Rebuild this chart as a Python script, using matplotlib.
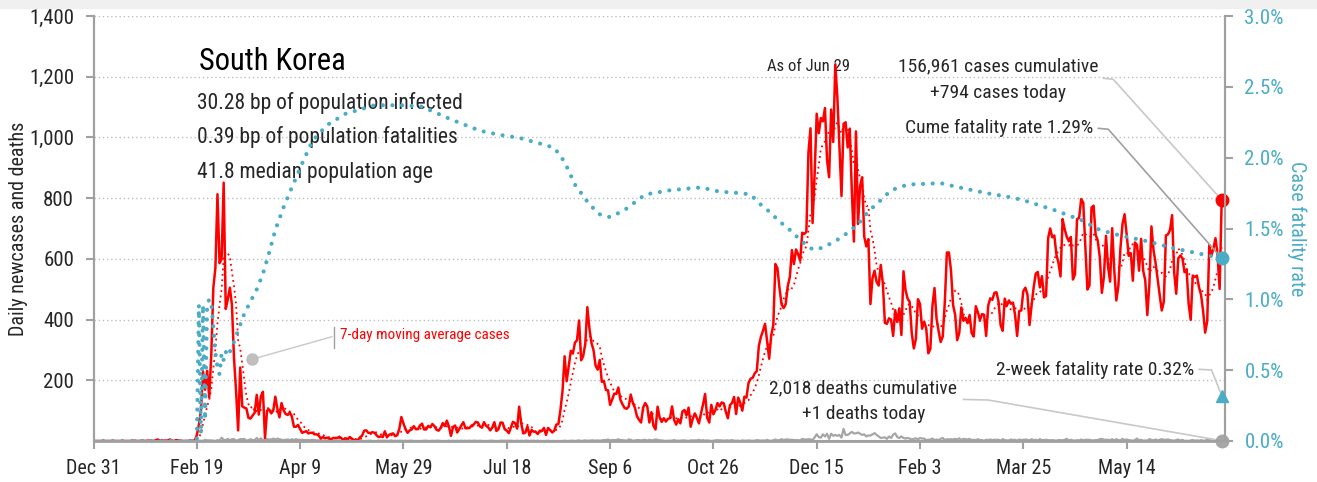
import numpy as np
import pandas as pd
import matplotlib
matplotlib.use("Agg")
import matplotlib.pyplot as plt
from matplotlib.patches import Rectangle

plt.rcParams['font.family'] = ['Roboto Condensed', 'Archivo Narrow', 'DejaVu Sans']

RED = '#ff0000'
TEAL = '#4bacc6'
GRAY = '#a6a6a6'
LIGHT = '#c8c8c8'
INK = '#262626'

START = pd.Timestamp('2019-12-31')

# daily new cases, one list per month
cases_2019_12 = [0]
cases_2020_01 = [0, 0, 0, 0, 0, 0, 0, 0, 0, 0, 0, 0, 0, 0, 0, 0, 0, 0, 0, 1,
                 0, 0, 0, 1, 0, 1, 1, 0, 0, 2, 5]
cases_2020_02 = [1, 3, 0, 1, 2, 5, 1, 0, 3, 2, 0, 0, 0, 0, 0, 1, 1, 1, 20, 53,
                 100, 229, 169, 231, 144, 284, 505, 571, 813]
cases_2020_03 = [586, 599, 851, 435, 467, 505, 448, 273, 164, 35, 242, 114, 110, 107, 76, 74,
                 84, 93, 152, 87, 147, 162, 10, 100, 104, 91, 100, 146, 105, 78, 125]
cases_2020_04 = [101, 89, 86, 94, 81, 47, 47, 53, 39, 27, 30, 32, 25, 27, 27, 22,
                 22, 18, 8, 13, 9, 11, 8, 6, 10, 10, 10, 14, 9, 4]
cases_2020_05 = [9, 6, 13, 8, 3, 2, 4, 12, 18, 34, 35, 27, 26, 29, 27, 19,
                 13, 15, 13, 32, 12, 20, 23, 25, 16, 19, 40, 79, 58, 39, 27]
cases_2020_06 = [35, 38, 49, 39, 39, 51, 57, 38, 38, 50, 45, 56, 49, 37, 34,
                 43, 59, 49, 67, 48, 17, 46, 51, 28, 39, 51, 62, 42, 42, 43]
cases_2020_07 = [51, 54, 63, 61, 48, 44, 62, 50, 45, 35, 44, 62, 33, 39, 61, 60,
                 39, 34, 26, 45, 63, 59, 41, 113, 58, 25, 28, 48, 18, 36, 31]
cases_2020_08 = [30, 23, 34, 33, 43, 20, 43, 36, 28, 34, 54, 56, 103, 166, 279, 197,
                 246, 297, 288, 324, 332, 397, 266, 280, 320, 441, 371, 323, 299, 248, 235]
cases_2020_09 = [267, 195, 198, 168, 167, 119, 136, 156, 155, 176, 136, 121, 109, 106, 113,
                 153, 126, 110, 82, 70, 61, 110, 125, 114, 61, 95, 50, 38, 113, 77]
cases_2020_10 = [63, 75, 64, 73, 75, 114, 69, 54, 72, 58, 97, 102, 84, 110, 47, 73,
                 91, 76, 58, 91, 121, 155, 77, 61, 119, 88, 103, 125, 114, 127, 124]
cases_2020_11 = [97, 75, 118, 125, 145, 89, 143, 126, 100, 146, 143, 191, 205, 208, 223,
                 230, 313, 343, 363, 386, 330, 271, 349, 382, 583, 569, 503, 450, 438, 451]
cases_2020_12 = [511, 540, 629, 583, 631, 615, 594, 686, 682, 689, 950, 1030, 718, 880, 1078, 1014,
                 1064, 1053, 1097, 926, 869, 1092, 985, 1241, 1132, 970, 807, 1045, 1050, 967, 1029]
cases_2021_01 = [824, 657, 1020, 715, 840, 869, 674, 641, 665, 451, 537, 561, 524, 512, 580, 520,
                 389, 386, 404, 400, 346, 431, 392, 437, 349, 559, 497, 469, 458, 355, 305]
cases_2021_02 = [336, 467, 451, 370, 393, 371, 289, 303, 444, 504, 403, 362, 326, 344,
                 457, 621, 621, 561, 448, 416, 332, 356, 440, 396, 406, 388, 415, 355]
cases_2021_03 = [344, 444, 424, 398, 418, 416, 346, 446, 470, 465, 488, 490, 459, 382, 363, 469,
                 445, 463, 452, 456, 415, 346, 428, 430, 494, 505, 482, 382, 447, 506, 551]
cases_2021_04 = [557, 506, 543, 473, 478, 668, 700, 671, 677, 614, 587, 542, 731, 698, 673,
                 658, 672, 532, 549, 731, 735, 797, 785, 644, 499, 512, 769, 775, 679, 661]
cases_2021_05 = [606, 488, 541, 676, 574, 525, 701, 564, 463, 511, 635, 715, 747, 681, 610, 619,
                 528, 654, 646, 561, 666, 561, 530, 415, 516, 707, 629, 587, 533, 480, 430]
cases_2021_06 = [459, 677, 681, 695, 744, 556, 485, 602, 611, 602, 556, 565, 452, 399, 545,
                 540, 545, 507, 482, 429, 357, 395, 645, 610, 634, 668, 614, 501, 794]

# daily deaths, one list per month
deaths_2019_12 = [0]
deaths_2020_01 = [0, 0, 0, 0, 0, 0, 0, 0, 0, 0, 0, 0, 0, 0, 0, 0,
                  0, 0, 0, 0, 0, 0, 0, 0, 0, 0, 0, 0, 0, 0, 0]
deaths_2020_02 = [0, 0, 0, 0, 0, 0, 0, 0, 0, 0, 0, 0, 0, 0, 0,
                  0, 0, 0, 0, 1, 1, 0, 4, 2, 2, 2, 1, 0, 3]
deaths_2020_03 = [1, 11, 4, 3, 7, 2, 6, 6, 1, 3, 6, 6, 7, 1, 3, 6,
                  3, 3, 10, 3, 9, 2, 7, 6, 5, 5, 8, 5, 8, 6, 4]
deaths_2020_04 = [3, 4, 5, 3, 6, 3, 6, 4, 4, 4, 3, 3, 3, 3, 4,
                  3, 2, 2, 2, 1, 1, 1, 2, 2, 0, 2, 1, 2, 1, 1]
deaths_2020_05 = [2, 0, 2, 2, 0, 0, 0, 1, 0, 0, 0, 1, 1, 0, 0, 0,
                  1, 1, 1, 1, 1, 0, 2, 0, 1, 0, 1, 1, 0, 1, 0]
deaths_2020_06 = [1, 1, 0, 0, 0, 0, 0, 1, 1, 0, 0, 1, 0, 1, 1,
                  0, 0, 0, 0, 1, 0, 1, 0, 1, 0, 1, 0, 1, 0, 1]
deaths_2020_07 = [0, 1, 1, 0, 1, 0, 0, 0, 0, 1, 1, 0, 0, 0, 1, 1,
                  1, 1, 1, 1, 0, 0, 1, 0, 1, 0, 1, 1, 0, 1, 1]
deaths_2020_08 = [0, 1, 0, 0, 0, 0, 1, 0, 0, 0, 0, 0, 0, 0, 1, 0,
                  0, 1, 1, 0, 1, 2, 0, 1, 2, 1, 1, 2, 2, 1, 2]
deaths_2020_09 = [1, 2, 3, 3, 5, 2, 3, 3, 3, 6, 3, 3, 2, 1, 5,
                  4, 1, 2, 3, 3, 2, 3, 4, 1, 4, 2, 3, 5, 4, 2]
deaths_2020_10 = [2, 1, 0, 1, 1, 1, 3, 1, 1, 1, 2, 2, 1, 0, 2, 2,
                  2, 2, 4, 1, 3, 1, 2, 1, 0, 1, 2, 3, 2, 2, 1]
deaths_2020_11 = [2, 2, 1, 3, 1, 1, 1, 0, 2, 1, 1, 2, 1, 1, 1,
                  3, 2, 1, 2, 1, 4, 1, 1, 2, 5, 2, 3, 6, 3, 5]
deaths_2020_12 = [5, 4, 4, 3, 3, 3, 2, 7, 5, 5, 6, 5, 3, 12, 22, 13,
                  11, 22, 15, 24, 7, 24, 17, 20, 17, 20, 11, 40, 20, 20, 25]
deaths_2021_01 = [30, 25, 25, 28, 24, 20, 22, 15, 18, 18, 22, 26, 20, 15, 10, 11,
                  12, 7, 15, 10, 21, 25, 13, 10, 15, 10, 8, 10, 8, 5, 7]
deaths_2021_02 = [9, 5, 10, 8, 8, 3, 4, 5, 8, 3, 5, 3, 7, 10,
                  3, 6, 5, 6, 5, 7, 5, 9, 3, 7, 6, 5, 7, 3]
deaths_2021_03 = [4, 3, 6, 3, 3, 1, 4, 3, 5, 3, 4, 4, 4, 1, 6, 3,
                  2, 2, 5, 3, 4, 1, 5, 3, 4, 5, 4, 2, 6, 3, 4]
deaths_2021_04 = [2, 6, 3, 3, 4, 3, 2, 3, 2, 1, 3, 3, 2, 4, 7,
                  2, 4, 2, 1, 3, 2, 5, 2, 4, 4, 4, 2, 2, 3, 3]
deaths_2021_05 = [6, 7, 4, 4, 4, 3, 6, 2, 6, 3, 2, 7, 3, 5, 3, 2,
                  1, 3, 8, 2, 4, 1, 2, 1, 6, 4, 2, 5, 2, 4, 6]
deaths_2021_06 = [4, 4, 5, 3, 2, 1, 3, 5, 1, 4, 0, 1, 0, 2, 3,
                  1, 2, 1, 3, 1, 1, 5, 4, 1, 0, 2, 1, 0, 1]

# cumulative case fatality rate (%), sampled along the curve
cfr_dates = ['2019-12-31', '2020-02-19', '2020-02-20', '2020-02-21', '2020-02-22', '2020-02-23',
             '2020-02-24', '2020-02-25', '2020-02-26', '2020-02-27', '2020-02-28', '2020-02-29',
             '2020-03-01', '2020-03-02', '2020-03-03', '2020-03-04', '2020-03-05', '2020-03-07',
             '2020-03-13', '2020-03-19', '2020-03-22', '2020-03-25', '2020-03-28', '2020-04-01',
             '2020-04-05', '2020-04-10', '2020-04-15', '2020-04-22', '2020-05-01', '2020-05-15',
             '2020-05-29', '2020-06-07', '2020-06-21', '2020-07-05', '2020-07-15', '2020-07-24',
             '2020-08-03', '2020-08-10', '2020-08-15', '2020-08-20', '2020-08-27', '2020-09-01',
             '2020-09-06', '2020-09-13', '2020-09-23', '2020-10-05', '2020-10-20', '2020-10-29',
             '2020-11-08', '2020-11-13', '2020-11-17', '2020-11-22', '2020-11-27', '2020-12-02',
             '2020-12-07', '2020-12-12', '2020-12-15', '2020-12-20', '2020-12-25', '2020-12-30',
             '2021-01-04', '2021-01-09', '2021-01-15', '2021-01-20', '2021-01-28', '2021-02-13',
             '2021-02-22', '2021-03-07', '2021-03-19', '2021-03-25', '2021-04-09', '2021-04-22',
             '2021-05-01', '2021-05-11', '2021-05-24', '2021-06-06', '2021-06-19', '2021-06-29']
cfr_pct = [0.0, 0.0, 0.96, 0.05, 0.96, 0.15,
           0.96, 1.00, 0.98, 0.80, 0.62, 0.52,
           0.47, 0.62, 0.57, 0.63, 0.60, 0.66,
           0.90, 1.07, 1.18, 1.33, 1.49, 1.65,
           1.79, 1.96, 2.12, 2.23, 2.31, 2.37,
           2.37, 2.36, 2.27, 2.19, 2.16, 2.14,
           2.10, 2.07, 1.97, 1.81, 1.67, 1.60,
           1.58, 1.63, 1.74, 1.77, 1.79, 1.76,
           1.75, 1.74, 1.68, 1.62, 1.55, 1.49,
           1.42, 1.36, 1.35, 1.38, 1.42, 1.47,
           1.53, 1.62, 1.70, 1.77, 1.81, 1.82,
           1.79, 1.75, 1.72, 1.70, 1.63, 1.56,
           1.49, 1.45, 1.41, 1.36, 1.32, 1.29]

two_week_rate = 0.32
total_cases = 156961
total_deaths = 2018
population_infected_bp = 30.28
population_fatalities_bp = 0.39
median_age = 41.8

cases = np.array(cases_2019_12 + cases_2020_01 + cases_2020_02 + cases_2020_03 + cases_2020_04
                 + cases_2020_05 + cases_2020_06 + cases_2020_07 + cases_2020_08 + cases_2020_09
                 + cases_2020_10 + cases_2020_11 + cases_2020_12 + cases_2021_01 + cases_2021_02
                 + cases_2021_03 + cases_2021_04 + cases_2021_05 + cases_2021_06, dtype=float)
deaths = np.array(deaths_2019_12 + deaths_2020_01 + deaths_2020_02 + deaths_2020_03 + deaths_2020_04
                  + deaths_2020_05 + deaths_2020_06 + deaths_2020_07 + deaths_2020_08 + deaths_2020_09
                  + deaths_2020_10 + deaths_2020_11 + deaths_2020_12 + deaths_2021_01 + deaths_2021_02
                  + deaths_2021_03 + deaths_2021_04 + deaths_2021_05 + deaths_2021_06, dtype=float)
days = np.arange(len(cases))
ma7 = pd.Series(cases).rolling(7, min_periods=1).mean().to_numpy()
cfr_days = (pd.to_datetime(cfr_dates) - START).days.to_numpy()
last = days[-1]
last_date = START + pd.Timedelta(days=int(last))

CASES_MAX = 1400
CFR_MAX = 3.0

fig = plt.figure(figsize=(13.17, 4.82), dpi=100)
fig.patches.append(Rectangle((0, 1 - 8 / 482), 1, 8 / 482, transform=fig.transFigure,
                             color='#f0f0f0', zorder=0))
ax = fig.add_axes([93.5 / 1317, 1 - 441 / 482, 1131.5 / 1317, 425 / 482])
ax2 = ax.twinx()

ax.plot(days, deaths, color=GRAY, lw=1.6, zorder=2)
ax.plot(days, ma7, color=RED, lw=1.3, ls=(0, (1, 2)), zorder=3)
ax.plot(days, cases, color=RED, lw=1.8, zorder=4, solid_joinstyle='round')
ax2.plot(cfr_days, cfr_pct, color=TEAL, lw=3, ls=(0, (0.01, 2.3)),
         dash_capstyle='round', zorder=2)

# end-of-series markers
ax.plot(last, cases[-1], 'o', color=RED, ms=9, clip_on=False, zorder=6)
ax.plot(last, deaths[-1], 'o', color=GRAY, ms=9, clip_on=False, zorder=6)
ax2.plot(last, cfr_pct[-1], 'o', color=TEAL, ms=9, clip_on=False, zorder=6)
ax2.plot(last, two_week_rate, '^', color=TEAL, ms=8, clip_on=False, zorder=6)

ax.set_xlim(0, 547.6)
ax.set_ylim(0, CASES_MAX)
ax2.set_ylim(0, CFR_MAX)

tick_days = np.arange(0, 547, 50)
tick_dates = START + pd.to_timedelta(tick_days, unit='D')
ax.set_xticks(tick_days)
ax.set_xticklabels([f"{d:%b} {d.day}" for d in tick_dates])
ax.set_yticks(np.arange(200, 1401, 200))
ax.set_yticklabels([f"{v:,}" for v in range(200, 1401, 200)])
ax2.set_yticks(np.arange(0, 3.01, 0.5))
ax2.set_yticklabels([f"{v:.1f}%" for v in np.arange(0, 3.01, 0.5)])

ax.yaxis.grid(True, color='#bdbdbd', ls=(0, (1, 2)), lw=1)
ax.set_axisbelow(True)

for a in (ax, ax2):
    a.spines['top'].set_visible(False)
    for s in ('left', 'right', 'bottom'):
        a.spines[s].set_color('#a0a0a0')
        a.spines[s].set_linewidth(1.5)
ax.spines['bottom'].set_linewidth(2)
ax.tick_params(axis='x', length=6, width=1.5, color='#a0a0a0', labelsize=14.5,
               labelcolor=INK, pad=7)
ax.tick_params(axis='y', length=6, width=1.5, color='#a0a0a0', labelsize=15,
               labelcolor=INK, pad=8)
ax2.tick_params(axis='y', length=6, width=1.5, color='#a0a0a0', labelsize=15,
                labelcolor=TEAL, pad=8)

ax.set_ylabel('Daily newcases and deaths', fontsize=14.5, color=INK)
ax.yaxis.set_label_coords(-0.058, 0.5)
ax2.set_ylabel('Case fatality rate', fontsize=14.5, color=TEAL, rotation=270)
ax2.yaxis.set_label_coords(1.0716, 0.5)

# headline block
ax.text(51.2, 1249, 'South Korea', fontsize=22, color='black', va='center', ha='left')
ax.text(50.2, 1112, f'{population_infected_bp:.2f} bp of population infected',
        fontsize=15.5, color=INK, va='center')
ax.text(50.2, 1000, f'{population_fatalities_bp:.2f} bp of population fatalities',
        fontsize=15.5, color=INK, va='center')
ax.text(50.2, 884.5, f'{median_age:.1f} median population age',
        fontsize=15.5, color=INK, va='center')

ax.text(345.8, 1235, f'As of {last_date:%b} {last_date.day}', fontsize=12, color=INK,
        ha='center', va='center')

# cumulative cases callout
ax.text(437.7, 1233, f'{total_cases:,} cases cumulative', fontsize=14, color=INK,
        ha='center', va='center')
ax.text(437.7, 1145, f'+{int(cases[-1])} cases today', fontsize=14, color=INK,
        ha='center', va='center')
ax.plot([488.7, 493.5, last], [1195, 1191.5, cases[-1]], color=LIGHT, lw=1.2,
        clip_on=False, zorder=5)

# cumulative fatality rate callout
scale = CASES_MAX / CFR_MAX
ax.text(483.9, 1030, f'Cume fatality rate {cfr_pct[-1]:.2f}%', fontsize=14, color=INK,
        ha='right', va='center')
ax.plot([486.3, 491.1, last], [1030, 1027, cfr_pct[-1] * scale], color='#a0a0a0', lw=1.2,
        clip_on=False, zorder=5)

# two-week fatality rate callout
ax.text(532.6, 234, f'2-week fatality rate {two_week_rate:.2f}%', fontsize=14, color=INK,
        ha='right', va='center')
ax.plot([535.1, 541.1, last], [236, 234, two_week_rate * scale], color=LIGHT, lw=1.2,
        clip_on=False, zorder=5)

# deaths callout
ax.text(372.6, 173.6, f'{total_deaths:,} deaths cumulative', fontsize=14, color=INK,
        ha='center', va='center')
ax.text(372.6, 89, f'+{int(deaths[-1])} deaths today', fontsize=14, color=INK,
        ha='center', va='center')
ax.plot([421, 433, last], [137, 135, deaths[-1]], color=LIGHT, lw=1.2,
        clip_on=False, zorder=5)

# moving average label
ax.text(119.4, 349, '7-day moving average cases', fontsize=11, color=RED, va='center')
ax.plot([116.2, 116.2], [305, 376.5], color='#a0a0a0', lw=1)
ax.plot([115.4, 76.6], [343.5, 269], color=LIGHT, lw=1)
ax.plot(76.6, 269, 'o', color='#bfbfbf', ms=8, zorder=5)

fig.savefig('out.png', dpi=100)
